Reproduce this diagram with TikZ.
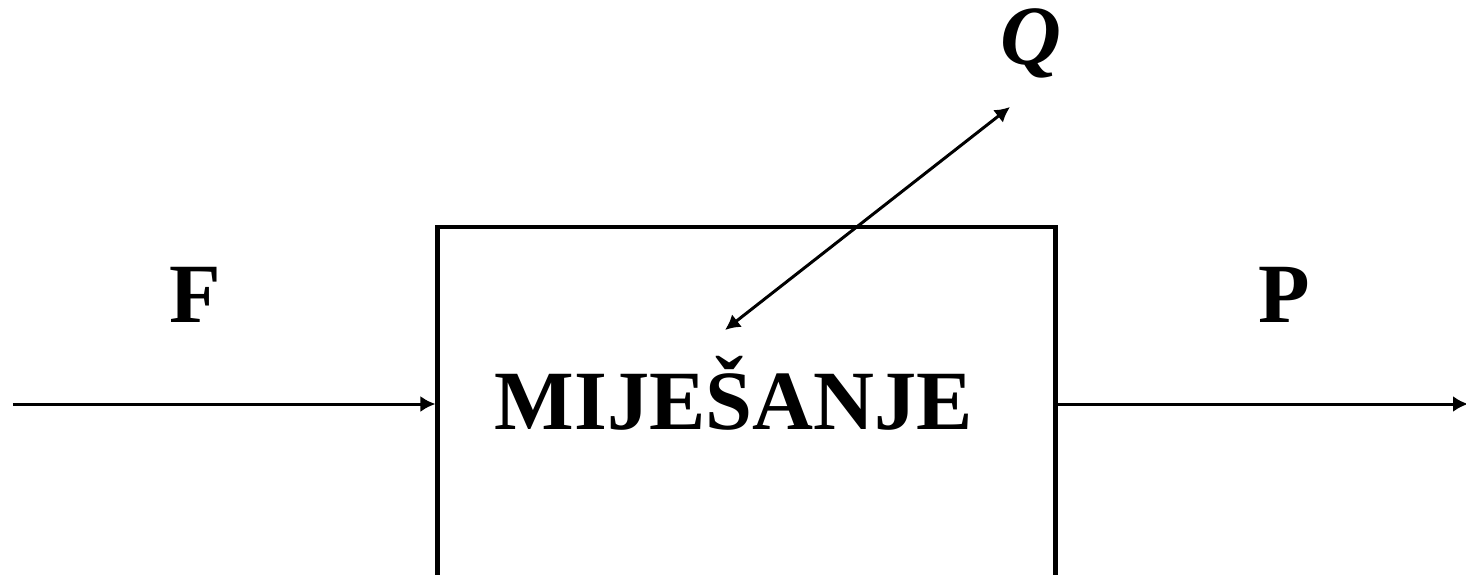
\documentclass[tikz,border=0pt]{standalone}
\usepackage{fontspec}
\setmainfont{Liberation Serif}
\usetikzlibrary{arrows.meta,positioning,calc}

\begin{document}
\begin{tikzpicture}[
        font=\fontsize{48}{58}\selectfont\bfseries,
        arrow/.style={-{Latex[length=3mm,width=3.2mm]}, line width=1.7pt},
        dblarrow/.style={{Latex[length=3mm,width=3.2mm]}-{Latex[length=3mm,width=3.2mm]}, line width=1.7pt},
        box/.style={draw, line width=2.3pt, minimum width=12.36cm, minimum height=7.12cm},
        label/.style={anchor=base, inner sep=0pt}
    ]
        \useasboundingbox (0,0) rectangle (29.32,-11.48);

        \node[box] (mix) at (14.93,-8.1) {};
        \node[label] (mixtext) at (14.68,-8.58) {MIJEŠANJE};

        \node[label] (flabel) at (3.9,-6.44) {F};
        \node[label] (plabel) at (25.68,-6.44) {P};
        \node[label] (qlabel) at (20.62,-1.28) {\textit{Q}};

        \coordinate (feed) at (0.26,-8.08);
        \coordinate (product) at (29.36,-8.08);
        \coordinate (heatin) at (14.5,-6.6);
        \coordinate (heatout) at (20.2,-2.14);

        \draw[arrow] (feed) -- (feed -| mix.west);
        \draw[arrow] (product -| mix.east) -- (product);
        \draw[dblarrow] (heatin) -- (heatout);
    \end{tikzpicture}
\end{document}
